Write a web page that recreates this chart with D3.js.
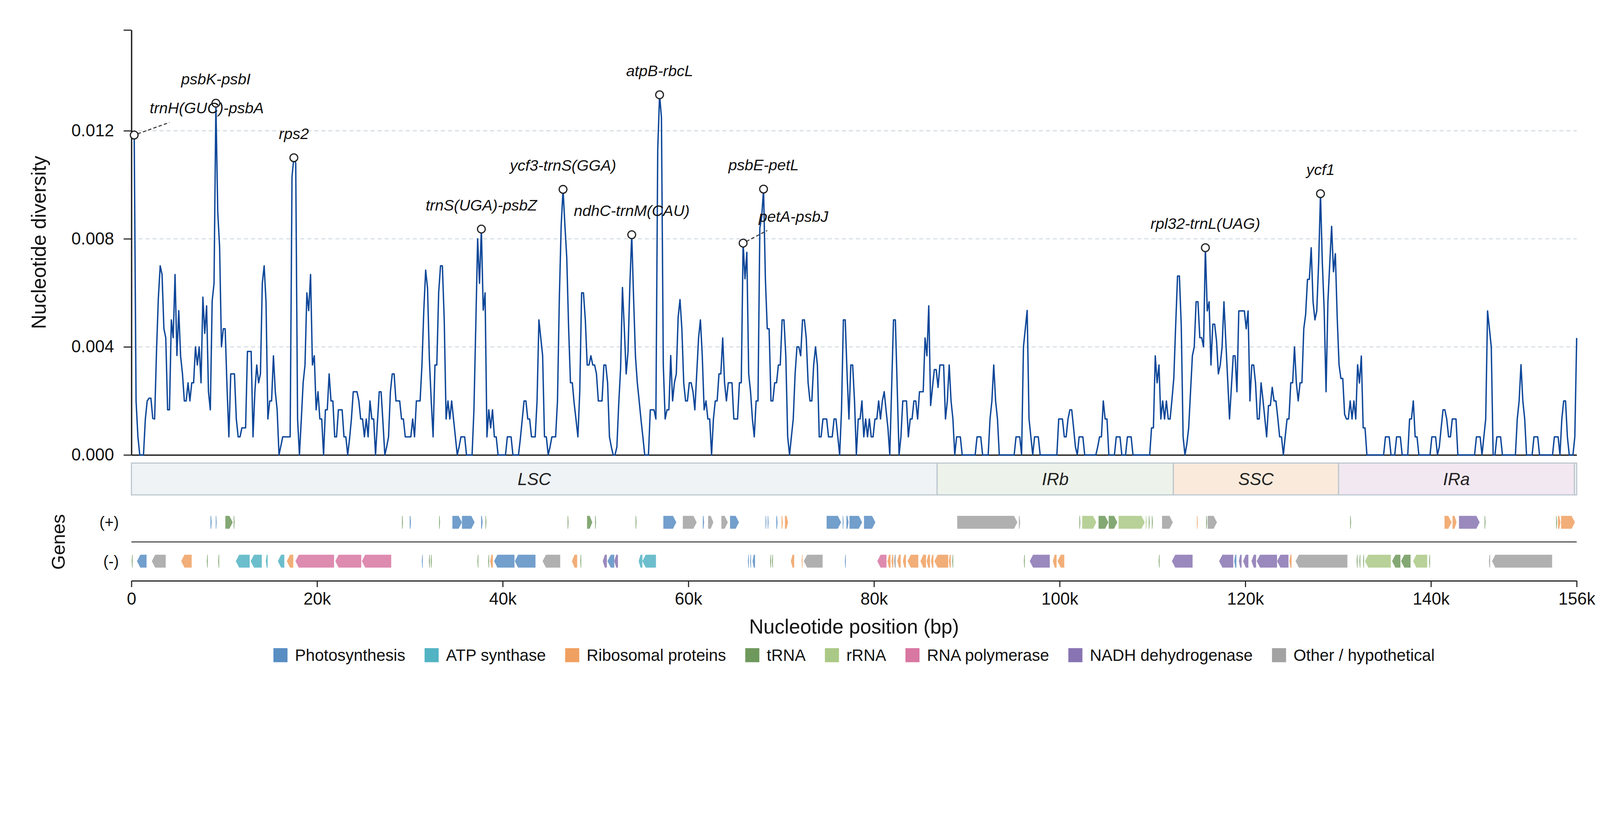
<!DOCTYPE html>
<html>
<head>
<meta charset="utf-8">
<script src="https://cdn.jsdelivr.net/npm/d3@7"></script>
<style>
  html, body { margin: 0; padding: 0; background: #fff; overflow: hidden; }
  svg { display: block; width: 100vw; height: 100vh; font-family: "Liberation Sans", Arial, sans-serif; }
</style>
</head>
<body>
<svg id="chart" viewBox="0 0 4322 2102" preserveAspectRatio="xMidYMin meet"></svg>
<script>
// Nucleotide diversity (Pi) along the plastome, sliding window
const genomeLength = 155700;
const windowStart = 300;   // centre of first window (bp)
const windowStep = 200;

const diversity = [
  0.01184, 0.0020, 0.00067, 0, 0, 0, 0.00133, 0.0020, 0.0021, 0.0021,
  0.00135, 0.00133, 0.0038, 0.0058, 0.0070, 0.00668, 0.00467, 0.00434, 0.00167, 0.00167,
  0.0050, 0.00434, 0.00668, 0.00368, 0.00534, 0.00365, 0.0030, 0.0020, 0.0020, 0.00267,
  0.0020, 0.00267, 0.00267, 0.0040, 0.00333, 0.0040, 0.00267, 0.00584, 0.0045, 0.00552,
  0.00234, 0.00167, 0.0057, 0.00635, 0.01302, 0.0090, 0.0077, 0.0040, 0.00467, 0.00467,
  0.0025, 0.00067, 0.0030, 0.0030, 0.0030, 0.00133, 0.00067, 0.00067, 0.0010, 0.0010,
  0.0010, 0.00383, 0.00383, 0.00383, 0.00067, 0.00234, 0.00333, 0.00267, 0.0030, 0.00635,
  0.0070, 0.00567, 0.00133, 0.0020, 0.0020, 0.00367, 0.00234, 0.00167, 0, 0.00033,
  0.00067, 0.00067, 0.00067, 0.00067, 0.00067, 0.0103, 0.0110, 0.0108, 0.00133, 0,
  0.0013, 0.00267, 0.00333, 0.0060, 0.00534, 0.00668, 0.00333, 0.00367, 0.00167, 0.00234,
  0.00133, 0.00133, 0, 0.00167, 0.00167, 0.0030, 0.0020, 0.0020, 0.00067, 0.00067,
  0.00167, 0.00167, 0.00167, 0.00067, 0.00067, 0, 0.0006, 0.00133, 0.00234, 0.00234,
  0.00234, 0.0020, 0.00133, 0.00133, 0.00067, 0.00133, 0.00067, 0.0020, 0.00133, 0.00133,
  0, 0.0012, 0.00234, 0.00234, 0.0012, 0, 0.0003, 0.00067, 0.00234, 0.0030,
  0.0030, 0.0020, 0.0020, 0.0020, 0.00133, 0.00133, 0.00067, 0.00067, 0.00067, 0.00067,
  0.00133, 0.00067, 0.0020, 0.0020, 0.0020, 0.00333, 0.00536, 0.00684, 0.00618, 0.00353,
  0.0020, 0.00067, 0.00333, 0.00333, 0.0060, 0.0070, 0.0070, 0.0050, 0.00133, 0.0020,
  0.00133, 0.0020, 0.00133, 0.00067, 0, 0.0003, 0.00067, 0.00067, 0.00067, 0,
  0, 0, 0, 0.00167, 0.0048, 0.0080, 0.00635, 0.00836, 0.00536, 0.0060,
  0.00067, 0.00167, 0.0010, 0.00167, 0.00067, 0.00067, 0, 0, 0, 0,
  0, 0.00067, 0.00067, 0.00067, 0, 0, 0, 0, 0.0006, 0.0013,
  0.0020, 0.0020, 0.00133, 0.00133, 0.00067, 0.00067, 0.00067, 0.0020, 0.0050, 0.00433,
  0.00368, 0.00067, 0.00067, 0, 0.0003, 0.00067, 0.00067, 0.00067, 0.0020, 0.0058,
  0.0085, 0.00983, 0.0085, 0.0073, 0.0047, 0.00267, 0.00267, 0.0019, 0.0013, 0.00067,
  0.00234, 0.0060, 0.0060, 0.0050, 0.00333, 0.00333, 0.00367, 0.00333, 0.00333, 0.0030,
  0.0020, 0.0020, 0.0020, 0.00333, 0.00333, 0.00267, 0.00067, 0.0003, 0, 0,
  0.0003, 0.0019, 0.0032, 0.0062, 0.00467, 0.0030, 0.00382, 0.00632, 0.00815, 0.00581,
  0.00365, 0.00267, 0.0020, 0.0013, 0.00067, 0, 0, 0, 0.00167, 0.00167,
  0.00167, 0.00133, 0.0113, 0.01333, 0.0125, 0.00333, 0.00133, 0.00167, 0.00167, 0.00368,
  0.0020, 0.00267, 0.0030, 0.0051, 0.00575, 0.00467, 0.00267, 0.0020, 0.0020, 0.00267,
  0.00267, 0.00234, 0.00167, 0.0030, 0.00433, 0.0050, 0.00365, 0.00167, 0.0020, 0.00133,
  0.00133, 0, 0.00133, 0.0020, 0.0020, 0.0030, 0.0030, 0.00433, 0.00267, 0.0020,
  0.00267, 0.00267, 0.00267, 0.00133, 0.00133, 0.00133, 0.00267, 0.00267, 0.00784, 0.00652,
  0.0075, 0.0030, 0.00234, 0.00133, 0.00067, 0.0020, 0.0020, 0.0084, 0.0088, 0.00984,
  0.0065, 0.00467, 0.00467, 0.0020, 0.0020, 0.00267, 0.00267, 0.00333, 0.00333, 0.0050,
  0.0050, 0.00365, 0.00067, 0, 0.00067, 0.00133, 0.0030, 0.0040, 0.0040, 0.00367,
  0.0050, 0.0050, 0.00433, 0.00267, 0.0020, 0.0020, 0.00333, 0.0040, 0.00333, 0.00067,
  0.00067, 0.00133, 0.00133, 0.00133, 0.00067, 0.00067, 0.00067, 0.00133, 0.00133, 0.00067,
  0, 0.00167, 0.0050, 0.0050, 0.0030, 0.00133, 0.00333, 0.00333, 0.0020, 0,
  0.00133, 0.00133, 0.0020, 0.00067, 0.00133, 0.00067, 0.00133, 0.00067, 0.00067, 0.00133,
  0.00133, 0.0020, 0.00133, 0.0020, 0.00234, 0.00165, 0.0010, 0, 0.0025, 0.0050,
  0.0050, 0.0025, 0, 0.00067, 0.0020, 0.0020, 0.0020, 0.00067, 0.00133, 0.00133,
  0.0020, 0.0020, 0.00133, 0.00234, 0.00234, 0.00234, 0.00433, 0.00367, 0.00552, 0.00183,
  0.0025, 0.00316, 0.00316, 0.0025, 0.00333, 0.00333, 0.00333, 0.00133, 0.0020, 0.00333,
  0.0020, 0.00133, 0, 0.00067, 0.00067, 0.00067, 0, 0, 0, 0,
  0, 0, 0, 0, 0.00067, 0.00067, 0.00067, 0, 0, 0,
  0, 0.00133, 0.0020, 0.00333, 0.0020, 0.00133, 0, 0, 0, 0,
  0, 0, 0, 0, 0, 0.00067, 0.00067, 0.00067, 0, 0.0040,
  0.00467, 0.00535, 0.00133, 0.00067, 0, 0.00067, 0.00067, 0.00067, 0, 0,
  0, 0, 0, 0, 0, 0, 0, 0, 0.00133, 0.00133,
  0.00133, 0.00067, 0.00067, 0.00133, 0.00167, 0.00167, 0.0010, 0.0003, 0, 0.00067,
  0.00067, 0.00067, 0, 0, 0, 0, 0, 0, 0, 0.0003,
  0.00067, 0.00067, 0.0020, 0.00133, 0.00133, 0, 0, 0, 0, 0.00067,
  0.00067, 0.00067, 0, 0, 0, 0.00067, 0.00067, 0.00067, 0, 0,
  0, 0, 0, 0, 0, 0, 0, 0, 0.0010, 0.0010,
  0.00367, 0.00267, 0.00333, 0.00133, 0.0020, 0.00133, 0.0020, 0.00133, 0.00133, 0.00205,
  0.00285, 0.0048, 0.00662, 0.00662, 0.0048, 0.00067, 0, 0.0004, 0.0010, 0.00234,
  0.00367, 0.0040, 0.00567, 0.00567, 0.00434, 0.00434, 0.0040, 0.00767, 0.00533, 0.00567,
  0.00333, 0.00484, 0.00484, 0.00422, 0.0030, 0.00333, 0.0040, 0.00567, 0.0042, 0.0028,
  0.00133, 0.0025, 0.00367, 0.00367, 0.00234, 0.00533, 0.00533, 0.00533, 0.00533, 0.00467,
  0.00533, 0.0020, 0.00333, 0.00333, 0.00267, 0.00133, 0.00133, 0.00267, 0.00205, 0.00137,
  0.00067, 0.00183, 0.00183, 0.0025, 0.0020, 0.0020, 0.00137, 0.00067, 0.00067, 0,
  0.00068, 0.00133, 0.00133, 0.00267, 0.00267, 0.0040, 0.00267, 0.0020, 0.00267, 0.00267,
  0.00467, 0.0052, 0.0065, 0.0065, 0.00767, 0.00567, 0.0050, 0.00533, 0.0071, 0.00967,
  0.0071, 0.00535, 0.00234, 0.00567, 0.0071, 0.00846, 0.00678, 0.00745, 0.0051, 0.00334,
  0.00283, 0.00283, 0.0015, 0.00133, 0.00133, 0.0020, 0.00133, 0.0020, 0.00133, 0.00334,
  0.00266, 0.00366, 0.0010, 0.0010, 0, 0, 0, 0, 0, 0,
  0, 0, 0, 0, 0.00067, 0.00067, 0.00067, 0, 0, 0,
  0.00067, 0.00067, 0.00067, 0, 0, 0, 0, 0.00133, 0.00133, 0.0020,
  0.00067, 0.00067, 0, 0, 0, 0, 0, 0, 0, 0.00067,
  0.00067, 0.00067, 0, 0.0003, 0.0010, 0.00167, 0.00167, 0.00133, 0.00067, 0.00067,
  0.00133, 0.00133, 0.00133, 0, 0, 0, 0, 0, 0, 0,
  0, 0, 0, 0.00067, 0.00067, 0.00067, 0, 0.00067, 0.00133, 0.00533,
  0.00467, 0.0040, 0, 0, 0.00067, 0.00067, 0.00067, 0, 0, 0,
  0, 0, 0, 0, 0, 0.00133, 0.0020, 0.00334, 0.0020, 0.00133,
  0, 0, 0, 0, 0.00067, 0.00067, 0.00067, 0, 0, 0,
  0, 0, 0, 0, 0, 0.00067, 0.00067, 0.00067, 0, 0.00133,
  0.0020, 0.0020, 0.00067, 0, 0, 0, 0.00067, 0.00433
];

// annotated hotspots: index into diversity + label
const peakIndex = [0, 44, 86, 187, 231, 268, 283, 328, 339, 577, 639];
const peakLabels = ["trnH(GUC)-psbA", "psbK-psbI", "rps2", "trnS(UGA)-psbZ", "ycf3-trnS(GGA)",
  "ndhC-trnM(CAU)", "atpB-rbcL", "petA-psbJ", "psbE-petL", "rpl32-trnL(UAG)", "ycf1"];

// quadripartite structure
const regionNames  = ["LSC", "IRb", "SSC", "IRa", ""];
const regionStarts = [0, 86800, 112250, 130050, 155450];
const regionEnds   = [86800, 112250, 130050, 155450, 155700];
const regionFills  = ["#eff3f6", "#edf3ea", "#faeadc", "#f2e8f2", "#eff3f6"];

// gene categories
const categoryKeys   = ["photo", "atp", "ribo", "trna", "rrna", "rnap", "ndh", "other"];
const categoryNames  = ["Photosynthesis", "ATP synthase", "Ribosomal proteins", "tRNA", "rRNA",
  "RNA polymerase", "NADH dehydrogenase", "Other / hypothetical"];
const categoryColors = ["#598ec3", "#52b3c3", "#f0a060", "#6f995c", "#abc986", "#d877a2", "#8874b2", "#a2a2a2"];

// genes on (+) strand: [start, end, category]
const genesPlus = [
  [8520, 8650, "photo"], [9085, 9185, "photo"], [10117, 10916, "trna"], [11016, 11115, "trna"],
  [29153, 29253, "trna"], [29985, 30118, "photo"], [33147, 33247, "trna"], [34578, 35610, "photo"],
  [35610, 36974, "photo"], [37673, 37840, "photo"], [38139, 38238, "trna"], [46990, 47090, "trna"],
  [49087, 49653, "trna"], [49952, 50052, "trna"], [54314, 54414, "trna"], [57307, 58703, "photo"],
  [59402, 60898, "other"], [61563, 61696, "photo"], [62128, 62693, "other"], [63558, 64256, "other"],
  [64489, 65453, "photo"], [68313, 68413, "photo"], [68546, 68645, "photo"], [69477, 69610, "photo"],
  [70042, 70175, "ribo"], [70407, 70740, "ribo"], [74896, 76459, "photo"], [76625, 76725, "photo"],
  [77024, 77257, "photo"], [77357, 78720, "photo"], [78920, 80150, "photo"], [88961, 95445, "other"],
  [95611, 95744, "other"], [102127, 102227, "trna"], [102426, 103955, "rrna"], [104188, 105251, "trna"],
  [105284, 106214, "trna"], [106347, 109170, "rrna"], [109270, 109370, "rrna"], [109603, 109702, "trna"],
  [109935, 110034, "trna"], [111031, 112194, "other"], [114785, 114884, "ribo"], [115781, 115881, "trna"],
  [115948, 116945, "other"], [131296, 131395, "trna"], [141461, 142225, "ribo"], [142325, 142757, "ribo"],
  [143022, 145248, "ndh"], [145780, 145880, "trna"], [153487, 153587, "trna"], [153686, 153952, "ribo"],
  [154019, 155513, "ribo"]
];

// genes on (-) strand: [start, end, category]
const genesMinus = [
  [30, 130, "trna"], [599, 1631, "photo"], [2196, 3694, "other"], [5358, 6490, "ribo"],
  [8120, 8220, "trna"], [9352, 9452, "trna"], [11249, 12746, "atp"], [12846, 14044, "atp"],
  [14477, 14677, "atp"], [15775, 16474, "atp"], [16740, 17439, "ribo"], [17672, 21832, "rnap"],
  [21965, 24761, "rnap"], [24827, 27989, "rnap"], [31283, 31383, "photo"], [32049, 32149, "trna"],
  [32249, 32349, "trna"], [37274, 37374, "trna"], [38438, 38538, "trna"], [38638, 38937, "ribo"],
  [39071, 41267, "photo"], [41300, 43530, "photo"], [44296, 46193, "other"], [47457, 48022, "ribo"],
  [48355, 48455, "trna"], [50784, 51217, "ndh"], [51283, 52020, "photo"], [52020, 52419, "ndh"],
  [54647, 55046, "atp"], [55046, 56509, "atp"], [66417, 66517, "photo"], [66650, 66750, "photo"],
  [66916, 67182, "photo"], [68811, 68911, "trna"], [69011, 69111, "trna"], [71039, 71405, "ribo"],
  [72203, 72302, "ribo"], [72436, 74464, "other"], [76858, 76958, "photo"], [80350, 81346, "rnap"],
  [81446, 81779, "ribo"], [81879, 82078, "ribo"], [82145, 82344, "other"], [82510, 82876, "ribo"],
  [83109, 83442, "ribo"], [83608, 84772, "ribo"], [85005, 85604, "ribo"], [85670, 86036, "ribo"],
  [86135, 86401, "ribo"], [86501, 87997, "ribo"], [88063, 88263, "ribo"], [88429, 88529, "trna"],
  [96143, 96243, "trna"], [96775, 98936, "ndh"], [99268, 99667, "ribo"], [99767, 100498, "ribo"],
  [110665, 110765, "trna"], [112094, 114320, "ndh"], [117177, 118705, "ndh"], [118805, 119038, "photo"],
  [119303, 119602, "ndh"], [119768, 120332, "ndh"], [120665, 121163, "ndh"], [121229, 123422, "ndh"],
  [123422, 124651, "ndh"], [124751, 124984, "ribo"], [125416, 130997, "other"], [131993, 132092, "trna"],
  [132292, 132391, "trna"], [132690, 132790, "trna"], [132889, 135680, "rrna"], [135813, 136710, "trna"],
  [136776, 137806, "trna"], [138072, 139600, "rrna"], [139800, 139900, "trna"], [146244, 146377, "other"],
  [146577, 153055, "other"]
];

const yTickValues = [0, 0.004, 0.008, 0.012];
const xTickValues = [0, 20000, 40000, 60000, 80000, 100000, 120000, 140000, genomeLength];

// ---------------------------------------------------------------
const svg = d3.select("#chart");
const plot = { left: 355, right: 4259, top: 81, bottom: 1229 };

const x = d3.scaleLinear().domain([0, genomeLength]).range([plot.left, plot.right]);
const yMax = d3.max(diversity) * 1.18;
const y = d3.scaleLinear().domain([0, yMax]).range([plot.bottom, plot.top]);

const colorOf = d3.scaleOrdinal().domain(categoryKeys).range(categoryColors);
const posOf = i => windowStart + i * windowStep;

// Gitterlinien
svg.append("g").selectAll("line")
  .data(yTickValues.slice(1))
  .enter().append("line")
    .attr("x1", plot.left).attr("x2", plot.right)
    .attr("y1", d => y(d)).attr("y2", d => y(d))
    .attr("stroke", "#d5dde4")
    .attr("stroke-width", 3)
    .attr("stroke-dasharray", "11,8");

// y-Achse
const yAxisG = svg.append("g")
  .attr("transform", `translate(${plot.left},0)`)
  .call(d3.axisLeft(y)
    .tickValues([...yTickValues, yMax])
    .tickFormat(d => d === yMax ? "" : d3.format(".3f")(d))
    .tickSize(21).tickPadding(26).tickSizeOuter(0));
yAxisG.select(".domain").attr("stroke", "#222").attr("stroke-width", 3.7);
yAxisG.selectAll(".tick line").attr("stroke", "#222").attr("stroke-width", 3);
yAxisG.selectAll(".tick text").attr("font-size", 46).attr("fill", "#111");

// Grundlinie
const baseG = svg.append("g")
  .attr("transform", `translate(0,${plot.bottom})`)
  .call(d3.axisBottom(x).tickValues([]).tickSizeOuter(0));
baseG.select(".domain").attr("stroke", "#222").attr("stroke-width", 3.7);

// Diversitaetskurve
const line = d3.line()
  .x((d, i) => x(posOf(i)))
  .y(d => y(d));

svg.append("path")
  .datum(diversity)
  .attr("d", line)
  .attr("fill", "none")
  .attr("stroke", "#0e4799")
  .attr("stroke-width", 3.7)
  .attr("stroke-linejoin", "round");

// Hotspot-Beschriftungen
const labelNudge = {
  "trnH(GUC)-psbA": { dx: 196, dy: -73, lx: 95, ly: -34 },
  "petA-psbJ": { dx: 136, dy: -72, lx: 65, ly: -34 }
};
const peaks = peakIndex.map((idx, k) => ({
  cx: x(posOf(idx)), cy: y(diversity[idx]), label: peakLabels[k]
}));

const annG = svg.append("g");
peaks.forEach(p => {
  const n = labelNudge[p.label];
  if (n) {
    const len = Math.hypot(n.lx, n.ly);
    annG.append("line")
      .attr("x1", p.cx + n.lx / len * 10).attr("y1", p.cy + n.ly / len * 10)
      .attr("x2", p.cx + n.lx).attr("y2", p.cy + n.ly)
      .attr("stroke", "#333").attr("stroke-width", 2.8)
      .attr("stroke-dasharray", "9,6");
  }
});
annG.selectAll("circle")
  .data(peaks).enter().append("circle")
    .attr("cx", d => d.cx).attr("cy", d => d.cy)
    .attr("r", 10.5)
    .attr("fill", "#fff").attr("stroke", "#222").attr("stroke-width", 3.2);
annG.selectAll("text")
  .data(peaks).enter().append("text")
    .attr("x", d => d.cx + (labelNudge[d.label] ? labelNudge[d.label].dx : 0))
    .attr("y", d => d.cy + (labelNudge[d.label] ? labelNudge[d.label].dy : -65))
    .attr("dy", "0.35em")
    .attr("text-anchor", "middle")
    .attr("font-size", 41.7)
    .attr("font-style", "italic")
    .attr("fill", "#111")
    .text(d => d.label);

svg.append("text")
  .attr("transform", `translate(105,${(plot.top + plot.bottom) / 2}) rotate(-90)`)
  .attr("text-anchor", "middle")
  .attr("dy", "0.35em")
  .attr("font-size", 54)
  .attr("fill", "#111")
  .text("Nucleotide diversity");

// Regionen LSC / IRb / SSC / IRa
const regY = 1251, regH = 86;
const regG = svg.append("g");
regionNames.forEach((name, i) => {
  regG.append("rect")
    .attr("x", x(regionStarts[i]))
    .attr("y", regY)
    .attr("width", x(regionEnds[i]) - x(regionStarts[i]))
    .attr("height", regH)
    .attr("fill", regionFills[i])
    .attr("stroke", "#bcc6ce")
    .attr("stroke-width", 3);
  if (name) {
    regG.append("text")
      .attr("x", (x(regionStarts[i]) + x(regionEnds[i])) / 2)
      .attr("y", regY + regH / 2)
      .attr("dy", "0.36em")
      .attr("text-anchor", "middle")
      .attr("font-size", 46.5)
      .attr("font-style", "italic")
      .attr("fill", "#222")
      .text(name);
  }
});

// Gene als Pfeile
const plusY = 1411, minusY = 1516, halfH = 17.5;
function genePath(s, e, strand, cy) {
  const x0 = x(s), x1 = x(e), w = x1 - x0;
  const head = Math.min(9, w * 0.5);
  if (strand > 0) {
    return `M${x0},${cy - halfH}L${x1 - head},${cy - halfH}L${x1},${cy}L${x1 - head},${cy + halfH}L${x0},${cy + halfH}Z`;
  }
  return `M${x1},${cy - halfH}L${x0 + head},${cy - halfH}L${x0},${cy}L${x0 + head},${cy + halfH}L${x1},${cy + halfH}Z`;
}
const geneG = svg.append("g");
geneG.selectAll("path.plus")
  .data(genesPlus).enter().append("path")
    .attr("class", "plus")
    .attr("d", d => genePath(d[0], d[1], 1, plusY))
    .attr("fill", d => colorOf(d[2]))
    .attr("fill-opacity", 0.85);
geneG.selectAll("path.minus")
  .data(genesMinus).enter().append("path")
    .attr("class", "minus")
    .attr("d", d => genePath(d[0], d[1], -1, minusY))
    .attr("fill", d => colorOf(d[2]))
    .attr("fill-opacity", 0.85);

svg.append("line")
  .attr("x1", plot.left).attr("x2", plot.right)
  .attr("y1", 1464).attr("y2", 1464)
  .attr("stroke", "#333").attr("stroke-width", 2.6);

svg.append("text").attr("x", 321).attr("y", plusY).attr("dy", "0.35em")
  .attr("text-anchor", "end").attr("font-size", 42).attr("fill", "#111").text("(+)");
svg.append("text").attr("x", 321).attr("y", minusY).attr("dy", "0.35em")
  .attr("text-anchor", "end").attr("font-size", 42).attr("fill", "#111").text("(-)");
svg.append("text")
  .attr("transform", `translate(157,1464) rotate(-90)`)
  .attr("text-anchor", "middle").attr("dy", "0.35em")
  .attr("font-size", 51).attr("fill", "#111")
  .text("Genes");

// untere x-Achse
const xAxisG = svg.append("g")
  .attr("transform", "translate(0,1569)")
  .call(d3.axisBottom(x)
    .tickValues(xTickValues)
    .tickFormat(d => d === 0 ? "0" : Math.round(d / 1000) + "k")
    .tickSize(17).tickPadding(15).tickSizeOuter(0));
xAxisG.select(".domain").attr("stroke", "#222").attr("stroke-width", 3.2);
xAxisG.selectAll(".tick line").attr("stroke", "#222").attr("stroke-width", 3);
xAxisG.selectAll(".tick text").attr("font-size", 46).attr("fill", "#111");

svg.append("text")
  .attr("x", (plot.left + plot.right) / 2)
  .attr("y", 1692).attr("dy", "0.36em")
  .attr("text-anchor", "middle")
  .attr("font-size", 54).attr("fill", "#111")
  .text("Nucleotide position (bp)");

// Legende
const legendG = svg.append("g");
const box = 38, gapText = 20, gapItem = 52;
let cursor = 0;
categoryNames.forEach((name, i) => {
  legendG.append("rect")
    .attr("x", cursor).attr("y", -box / 2)
    .attr("width", box).attr("height", box)
    .attr("fill", categoryColors[i]);
  const t = legendG.append("text")
    .attr("x", cursor + box + gapText).attr("y", 0).attr("dy", "0.35em")
    .attr("font-size", 44).attr("fill", "#111")
    .text(name);
  cursor += box + gapText + t.node().getComputedTextLength() + gapItem;
});
const legendW = cursor - gapItem;
legendG.attr("transform", `translate(${(plot.left + plot.right) / 2 - legendW / 2},1770)`);
</script>
</body>
</html>
